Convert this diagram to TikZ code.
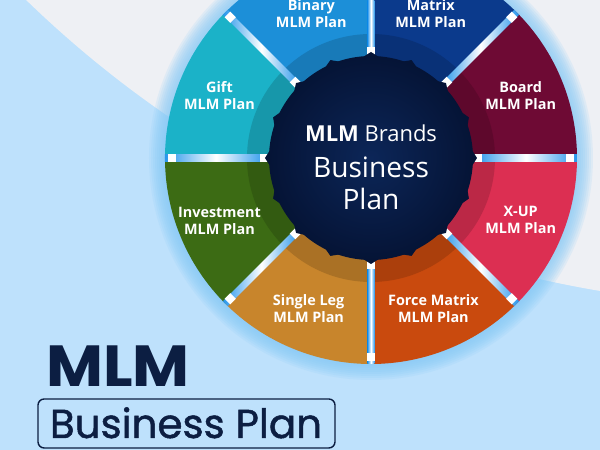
\documentclass[tikz,border=0pt]{standalone}
\usepackage{fontspec}
\setmainfont{Open Sans}
\newfontfamily\poppins[FakeStretch=1.07]{Poppins}
\newfontfamily\poppinsmed[FakeBold=1.2]{Poppins}
\usetikzlibrary{shapes,backgrounds,positioning,fit}
\definecolor{sky}{RGB}{190,225,252}
\definecolor{mist}{RGB}{238,240,244}
\definecolor{glow}{RGB}{130,200,246}
\definecolor{navy}{RGB}{12,30,66}
\definecolor{core-mid}{RGB}{12,38,88}
\definecolor{core-dark}{RGB}{5,20,54}
\definecolor{sep-blue}{RGB}{40,150,235}
\definecolor{binary-blue}{RGB}{28,143,216}
\definecolor{matrix-blue}{RGB}{11,58,140}
\definecolor{board-red}{RGB}{110,10,52}
\definecolor{xup-red}{RGB}{220,47,82}
\definecolor{force-orange}{RGB}{201,74,14}
\definecolor{leg-ochre}{RGB}{200,133,44}
\definecolor{invest-green}{RGB}{60,107,20}
\definecolor{gift-teal}{RGB}{27,178,200}

\begin{document}
\begin{tikzpicture}
    [x=0.02cm, y=0.02cm,
    plan/.style = {text=white, align=center, font=\bfseries\fontsize{8.2}{9.6}\selectfont},
    core text/.style = {text=white, anchor=base},
    square/.style = {fill=white}]

    \useasboundingbox (0,0) rectangle (600,450);
    \clip (0,0) rectangle (600,450);
    \fill[sky] (0,0) rectangle (600,450);
    \fill[mist] (781,1228) circle (1084);

    \begin{scope}[shift={(371,292)}]
    \coordinate (C) at (0,0);
    % soft glow round the wheel
    \foreach \r in {222,220,...,206}
      \fill[glow, opacity=0.14] (C) circle (\r);

    % outer sectors, then the darker inner band
    \foreach \a/\col in {90/binary-blue, 45/matrix-blue, 0/board-red, -45/xup-red,
                         -90/force-orange, -135/leg-ochre, 180/invest-green, 135/gift-teal}
    {
      \fill[\col] (C) -- (\a:206) arc[start angle=\a, end angle=\a+45, radius=206] -- cycle;
      \fill[\col!85!black] (C) -- (\a:124) arc[start angle=\a, end angle=\a+45, radius=124] -- cycle;
    }

    % separators
    \foreach \a in {0,45,...,315}
    {
      \begin{scope}[rotate=\a]
        \shade[left color=sep-blue, right color=sep-blue, middle color=white] (104,-3.5) rectangle (206,3.5);
        \fill[square] (103,-4) rectangle (111,4);
        \fill[square] (195,-4) rectangle (203,4);
      \end{scope}
    }

    % the core with its small teeth
    \foreach \t in {0,22.5,...,337.5}
      \fill[core-dark] (\t-6:100) -- (\t:106) -- (\t+6:100) -- cycle;
    \shade[inner color=core-mid, outer color=core-dark] (C) circle (102);

    \node [core text] (Brands) at (0,16) {\fontsize{12.5}{14}\selectfont\textbf{MLM} Brands};
    \node [core text] (Business) at (0,-20) {\fontsize{16}{19}\selectfont Business};
    \node [core text] (Plan) at (0,-52) {\fontsize{16}{19}\selectfont Plan};

    \node [plan] (Binary) at (112.5:156) {Binary\\MLM Plan};
    \node [plan] (Matrix) at (67.5:156) {Matrix\\MLM Plan};
    \node [plan] (Board) at (22.5:162) {Board\\MLM Plan};
    \node [plan] (XUP) at (-22.5:162) {X-UP\\MLM Plan};
    \node [plan] (Force) at (-67.5:163) {Force Matrix\\MLM Plan};
    \node [plan] (Single) at (-112.5:163) {Single Leg\\MLM Plan};
    \node [plan] (Investment) at (-157.5:164) {Investment\\MLM Plan};
    \node [plan] (Gift) at (157.5:164) {Gift\\MLM Plan};
    \end{scope}

    % title
    \node [anchor=base, text=navy, font=\poppins\bfseries\fontsize{33}{35}\selectfont] (Title) at (118,63) {MLM};
    \draw[navy, line width=0.8pt, rounded corners=3.5pt] (38,2) rectangle (335,51);
    \node [anchor=base, inner sep=0pt, text=navy, font=\poppinsmed\fontsize{23}{26}\selectfont] (Subtitle) at (186,12) {Business Plan};
\end{tikzpicture}
\end{document}
